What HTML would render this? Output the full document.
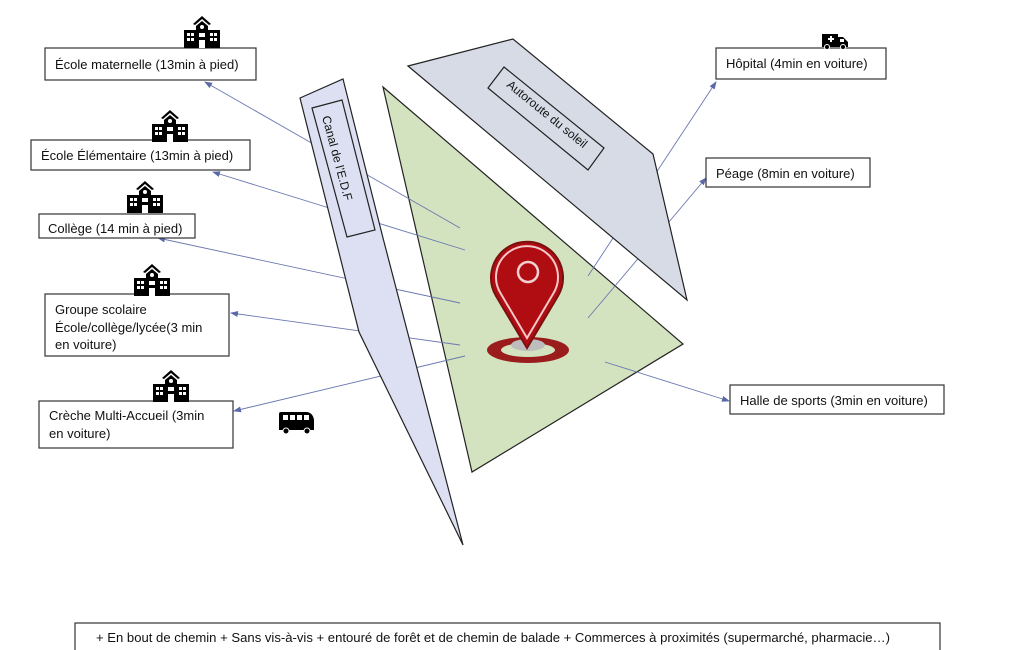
<!DOCTYPE html>
<html><head><meta charset="utf-8"><style>
html,body{margin:0;padding:0;background:#fff;}
svg{display:block;}
text{font-family:"Liberation Sans",sans-serif;fill:#111;}
</style></head><body>
<svg width="1025" height="650" viewBox="0 0 1025 650" xmlns="http://www.w3.org/2000/svg">
<defs>
<marker id="ar" markerWidth="8" markerHeight="8" refX="7" refY="4" orient="auto" markerUnits="userSpaceOnUse">
<path d="M0,1 L8,4 L0,7 Z" fill="#5a6aa8"/>
</marker>
<g id="school">
<path d="M18,0 L27,8 L25,9 L18,3 L11,9 L9,8 Z" fill="#000"/>
<path d="M12,10 L18,5 L24,10 L24,14 L36,14 L36,32 L0,32 L0,14 L12,14 Z" fill="#000"/>
<circle cx="18" cy="11" r="2" fill="#fff"/>
<rect x="15" y="24" width="6" height="8" fill="#fff"/>
<rect x="3" y="17" width="3" height="3" fill="#fff"/><rect x="7" y="17" width="3" height="3" fill="#fff"/>
<rect x="3" y="22" width="3" height="3" fill="#fff"/><rect x="7" y="22" width="3" height="3" fill="#fff"/>
<rect x="26" y="17" width="3" height="3" fill="#fff"/><rect x="30" y="17" width="3" height="3" fill="#fff"/>
<rect x="26" y="22" width="3" height="3" fill="#fff"/><rect x="30" y="22" width="3" height="3" fill="#fff"/>
<rect x="15" y="17" width="6" height="4" fill="#fff"/>
</g>
</defs>

<!-- green -->
<polygon points="383,87 683,344 472,472" fill="#d3e3bf" stroke="#222" stroke-width="1.2"/>

<!-- connectors -->
<g stroke="#6a78b0" stroke-width="0.9" fill="none" marker-end="url(#ar)">
<line x1="460" y1="228" x2="205" y2="82"/>
<line x1="465" y1="250" x2="213" y2="172"/>
<line x1="460" y1="303" x2="158" y2="238"/>
<line x1="460" y1="345" x2="231" y2="313"/>
<line x1="465" y1="356" x2="234" y2="411"/>
<line x1="588" y1="276" x2="716" y2="82"/>
<line x1="588" y1="318" x2="706" y2="178"/>
<line x1="605" y1="362" x2="729" y2="401"/>
</g>

<!-- canal -->
<polygon points="300,98 343,79 383,238 463,545 359,332" fill="#dde0f2" stroke="#222" stroke-width="1.2"/>
<polygon points="312,108 342,100 375,230 347,237" fill="#dde0f2" stroke="#222" stroke-width="1.2"/>
<text transform="translate(322,117) rotate(75)" font-size="12">Canal de l’E.D.F</text>

<!-- highway -->
<polygon points="408,66 513,39 653,154 687,300" fill="#d7dbe6" stroke="#222" stroke-width="1.2"/>
<polygon points="488,88 504,67 604,148 588,170" fill="#d7dbe6" stroke="#222" stroke-width="1.2"/>
<text transform="translate(506,86) rotate(39)" font-size="12">Autoroute du soleil</text>

<!-- pin -->
<ellipse cx="528" cy="350" rx="41" ry="13" fill="#9b1c1c"/>
<ellipse cx="528" cy="350" rx="27" ry="7" fill="#d3e3bf"/>
<ellipse cx="528" cy="345" rx="17" ry="6" fill="#bdbdbd"/>
<path d="M527,348 L496,296 A36,36 0 1 1 558,296 Z" fill="#b00d12" stroke="#7a1010" stroke-width="2"/>
<path d="M527,338 L501,294 A31,31 0 1 1 553,294 Z" fill="none" stroke="#f3c9c9" stroke-width="2"/>
<circle cx="528" cy="272" r="10" fill="#b00d12" stroke="#f3d0d0" stroke-width="2.5"/>

<!-- boxes -->
<g fill="#fff" stroke="#333" stroke-width="1.2">
<rect x="45" y="48" width="211" height="32"/>
<rect x="31" y="140" width="219" height="30"/>
<rect x="39" y="214" width="156" height="24"/>
<rect x="45" y="294" width="184" height="62"/>
<rect x="39" y="401" width="194" height="47"/>
<rect x="716" y="48" width="170" height="31"/>
<rect x="706" y="158" width="164" height="29"/>
<rect x="730" y="385" width="214" height="29"/>
<rect x="75" y="623" width="865" height="30"/>
</g>
<g font-size="13">
<text x="55" y="69">École maternelle (13min à pied)</text>
<text x="41" y="160">École Élémentaire (13min à pied)</text>
<text x="48" y="233">Collège (14 min à pied)</text>
<text x="55" y="314">Groupe scolaire</text>
<text x="55" y="332">École/collège/lycée(3 min</text>
<text x="55" y="349">en voiture)</text>
<text x="49" y="420">Crèche Multi-Accueil (3min</text>
<text x="49" y="438">en voiture)</text>
<text x="726" y="68">Hôpital (4min en voiture)</text>
<text x="716" y="178">Péage (8min en voiture)</text>
<text x="740" y="405">Halle de sports (3min en voiture)</text>
<text x="96" y="642" textLength="794" lengthAdjust="spacingAndGlyphs">+ En bout de chemin + Sans vis-à-vis + entouré de forêt et de chemin de balade + Commerces à proximités (supermarché, pharmacie…)</text>
</g>

<!-- icons -->
<use href="#school" x="184" y="16"/>
<use href="#school" x="152" y="110"/>
<use href="#school" x="127" y="181"/>
<use href="#school" x="134" y="264"/>
<use href="#school" x="153" y="370"/>

<!-- bus -->
<g>
<path d="M281,412 L307,412 Q313,413 314,420 L314,430 L279,430 L279,414 Q279,412 281,412 Z" fill="#000"/>
<rect x="283" y="415" width="5" height="5" fill="#fff"/><rect x="290" y="415" width="5" height="5" fill="#fff"/><rect x="297" y="415" width="5" height="5" fill="#fff"/><rect x="304" y="415" width="5" height="5" fill="#fff"/>
<circle cx="286" cy="431" r="3" fill="#000" stroke="#fff" stroke-width="1"/>
<circle cx="307" cy="431" r="3" fill="#000" stroke="#fff" stroke-width="1"/>
</g>
<!-- ambulance -->
<g>
<path d="M822,34 L838,34 L838,37 L843,37 L848,42 L848,47 L822,47 Z" fill="#000"/>
<path d="M828,38 h2 v-2 h2 v2 h2 v2 h-2 v2 h-2 v-2 h-2 Z" fill="#fff"/>
<rect x="840" y="39" width="4" height="3" fill="#fff"/>
<circle cx="827" cy="47" r="2.5" fill="#000" stroke="#fff" stroke-width="1"/>
<circle cx="843" cy="47" r="2.5" fill="#000" stroke="#fff" stroke-width="1"/>
</g>
</svg>
</body></html>
